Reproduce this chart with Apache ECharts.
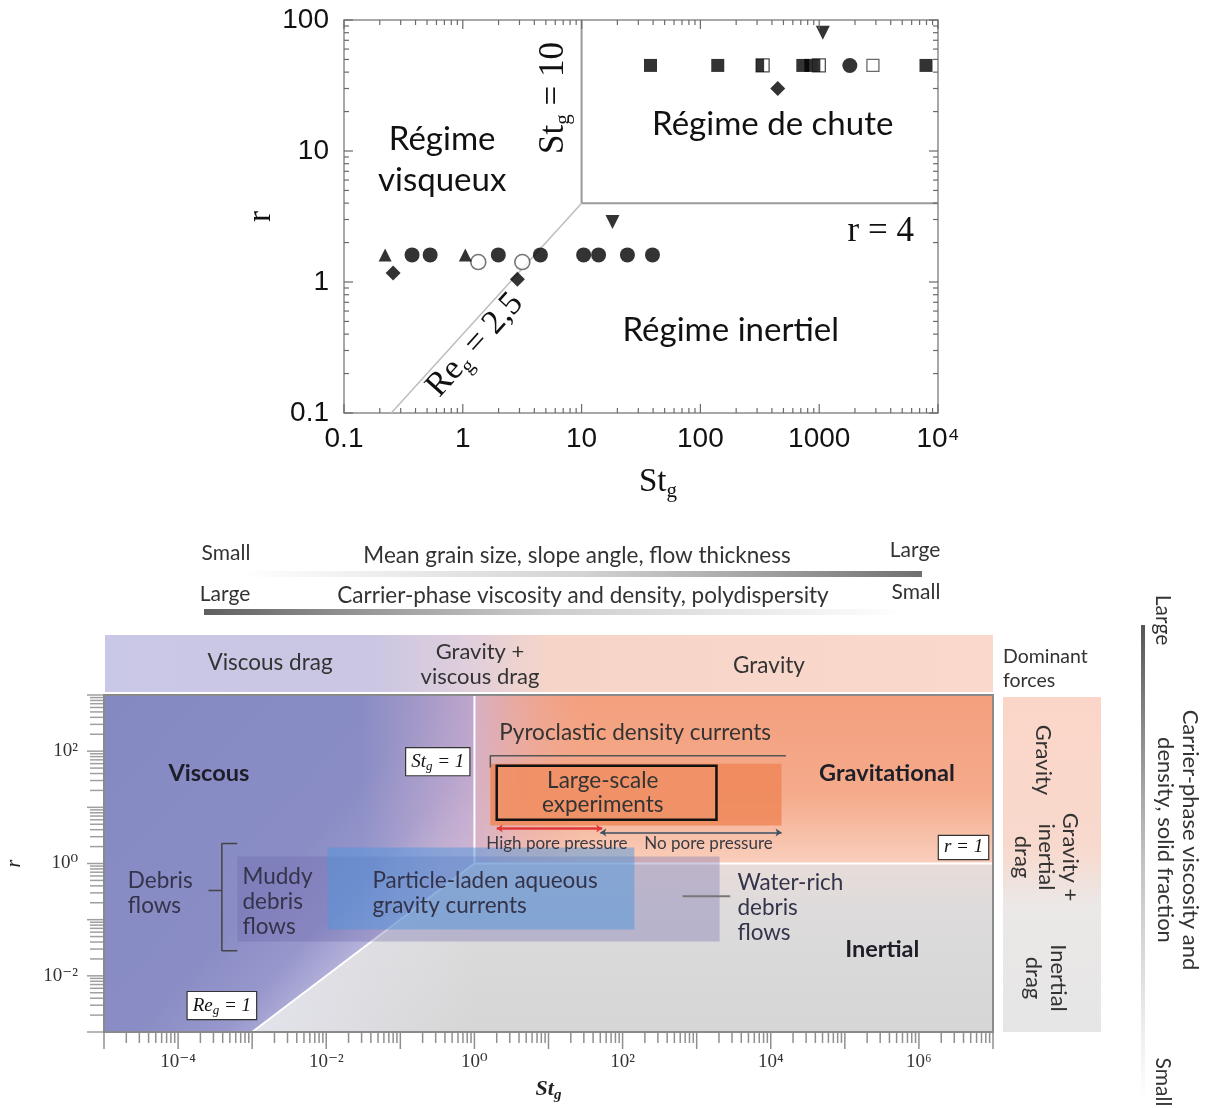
<!DOCTYPE html>
<html><head><meta charset="utf-8"><title>Flow regimes</title>
<script src="https://cdn.jsdelivr.net/npm/echarts@6.0.0/dist/echarts.min.js"></script>
<style>html,body{margin:0;padding:0;background:#fff;}#chart{width:1211px;height:1108px;}</style>
</head><body><div id="chart"></div>
<script>
// ================= TOP CHART DATA (St_g vs r, log-log) =================
const topXTicks = [0.1, 1, 10, 100, 1000, 10000];
const topXTickLabels = ['0.1', '1', '10', '100', '1000', '10⁴'];
const topYTicks = [0.1, 1, 10, 100];
const topYTickLabels = ['0.1', '1', '10', '100'];

const topFilledSquares = [[38, 45], [140, 45], [728, 45], [850, 45], [7925, 45]];
const topHalfSquares = [[334, 45], [993, 45]];
const topOpenSquares = [[2833, 45]];
const topFilledCircles = [[1811, 45], [0.374, 1.61], [0.531, 1.61], [1.99, 1.61], [4.5, 1.61], [10.4, 1.61], [13.9, 1.61], [24.3, 1.61], [39.5, 1.61]];
const topOpenCircles = [[1.35, 1.42], [3.17, 1.42]];
const topTrianglesUp = [[0.222, 1.61], [1.05, 1.61]];
const topTrianglesDown = [[1072, 80], [18.2, 2.87]];
const topDiamonds = [[0.259, 1.17], [2.88, 1.05], [448, 30]];

const topBoundaryStg = [[10, 4], [10, 100]];
const topBoundaryR = [[10, 4], [10000, 4]];
const topBoundaryReg = [[0.25, 0.1], [10, 4]];

const topRegionLabels = [
  { text: 'Régime\nvisqueux', x: 0.67, y: 8.5 },
  { text: 'Régime de chute', x: 406, y: 16 },
  { text: 'Régime inertiel', x: 180, y: 0.43 }
];
const topEquationLabels = [
  { text: 'St{s|g} = 10', x: 5.8, y: 25.4, angle: 90 },
  { text: 'Re{s|g} = 2,5', x: 1.27, y: 0.33, angle: 48 },
  { text: 'r = 4', x: 3300, y: 2.4, angle: 0 }
];

// ================= BOTTOM CHART DATA (regime diagram) =================
const botXLabelValues = [1e-4, 1e-2, 1, 1e2, 1e4, 1e6];
const botXLabels = ['10⁻⁴', '10⁻²', '10⁰', '10²', '10⁴', '10⁶'];
const botYLabelValues = [1e-2, 1, 1e2];
const botYLabels = ['10⁻²', '10⁰', '10²'];

const viscousRegion = [[1e-5, 1e3], [1, 1e3], [1, 1], [1e-3, 1e-3], [1e-5, 1e-3]];
const viscousTint = [[0.03, 1e3], [1, 1e3], [1, 1], [0.03, 0.03]];
const gravitationalRegion = [[1, 1e3], [1e7, 1e3], [1e7, 1], [1, 1]];
const inertialRegion = [[1, 1], [1e7, 1], [1e7, 1e-3], [1e-3, 1e-3]];

const botBoundaryStg = [[1, 1], [1, 1e3]];
const botBoundaryR = [[1, 1], [1e7, 1]];
const botBoundaryReg = [[1e-3, 1e-3], [1, 1]];

// boxes: [xMin, yMin, xMax, yMax]
const pyroclasticBox = [1.64, 4.75, 1.4e4, 60];
const largeScaleBox = [2.0, 6.0, 1850, 55];
const muddyBox = [6.3e-4, 0.041, 2040, 1.33];
const particleBox = [0.0104, 0.067, 144, 1.93];

const debrisBracket = [[6.3e-4, 2.27], [3.9e-4, 2.27], [3.9e-4, 0.028], [6.3e-4, 0.028]];
const debrisStub = [[2.57e-4, 0.33], [3.9e-4, 0.33]];
const waterRichStub = [[645, 0.26], [2840, 0.26]];
const pyroBracket = [[1.64, 51], [1.64, 83], [1.6e4, 83]];
const highPoreArrow = [[2.0, 4.2], [53, 4.2]];
const noPoreArrow = [[50, 3.55], [1.4e4, 3.55]];

const botBoldLabels = [
  { text: 'Viscous', x: 2.6e-4, y: 40 },
  { text: 'Gravitational', x: 3.7e5, y: 40 },
  { text: 'Inertial', x: 3.2e5, y: 0.03 }
];
const botCenterLabels = [
  { text: 'Pyroclastic density currents', x: 148, y: 214 },
  { text: 'Large-scale\nexperiments', x: 54, y: 18 }
];
const botSmallLabels = [
  { text: 'High pore pressure', x: 13, y: 2.27 },
  { text: 'No pore pressure', x: 1445, y: 2.27 }
];
const botLeftLabels = [
  { text: 'Debris\nflows', x: 2.1e-5, y: 0.30 },
  { text: 'Muddy\ndebris\nflows', x: 7.4e-4, y: 0.21 },
  { text: 'Particle-laden aqueous\ngravity currents', x: 0.042, y: 0.30 },
  { text: 'Water-rich\ndebris\nflows', x: 3550, y: 0.16 }
];
const botBoxedLabels = [
  { text: 'St{s|g} = 1', x: 0.32, y: 65 },
  { text: 'r = 1', x: 4e6, y: 1.93 },
  { text: 'Re{s|g} = 1', x: 3.9e-4, y: 2.95e-3 }
];

// ================= HELPERS =================
const SANS = 'Lato, "Noto Sans", sans-serif';
const SERIF = '"Liberation Serif", "DejaVu Serif", serif';
const ARIAL = '"Liberation Sans", Arial, sans-serif';
const G = echarts.graphic;
function lin(x, y, x2, y2, stops) {
  return new G.LinearGradient(x, y, x2, y2, stops.map(s => ({ offset: s[0], color: s[1] })));
}
function labelFor(values, labels) {
  return v => {
    for (let i = 0; i < values.length; i++) {
      if (Math.abs(Math.log10(values[i]) - Math.log10(v)) < 1e-6) return labels[i];
    }
    return '';
  };
}
function decadeTicks(e0, e1) {
  const out = [];
  for (let e = e0; e < e1; e++) {
    out.push([Math.pow(10, e), 1]);
    for (let m = 2; m <= 9; m++) out.push([m * Math.pow(10, e), 0]);
  }
  out.push([Math.pow(10, e1), 1]);
  return out;
}
function tickSeries(idx, dim, ticks, sides, majorLen, minorLen, color, width) {
  return {
    type: 'custom', xAxisIndex: idx, yAxisIndex: idx, silent: true, z: 30,
    data: ticks.map(t => dim === 'x' ? [t[0], 1, t[1]] : [1, t[0], t[1]]),
    encode: { x: 0, y: 1 },
    renderItem(params, api) {
      const cs = params.coordSys;
      const p = api.coord([api.value(0), api.value(1)]);
      const len = api.value(2) ? majorLen : minorLen;
      const children = [];
      sides.forEach(s => {
        let x1, y1, x2, y2;
        if (s === 'bottom-in') { x1 = x2 = p[0]; y1 = cs.y + cs.height; y2 = y1 - len; }
        if (s === 'top-in') { x1 = x2 = p[0]; y1 = cs.y; y2 = y1 + len; }
        if (s === 'bottom-out') { x1 = x2 = p[0]; y1 = cs.y + cs.height; y2 = y1 + len; }
        if (s === 'left-in') { y1 = y2 = p[1]; x1 = cs.x; x2 = x1 + len; }
        if (s === 'right-in') { y1 = y2 = p[1]; x1 = cs.x + cs.width; x2 = x1 - len; }
        if (s === 'left-out') { y1 = y2 = p[1]; x1 = cs.x; x2 = x1 - len; }
        children.push({ type: 'line', shape: { x1, y1, x2, y2 }, style: { stroke: color, lineWidth: width } });
      });
      return { type: 'group', children };
    }
  };
}
function textSeries(idx, items, style) {
  return {
    type: 'custom', xAxisIndex: idx, yAxisIndex: idx, silent: true, z: 40,
    data: items.map(d => [d.x, d.y]),
    encode: { x: 0, y: 1 },
    renderItem(params, api) {
      const d = items[params.dataIndex];
      const p = api.coord([api.value(0), api.value(1)]);
      return {
        type: 'text', x: p[0], y: p[1], rotation: (d.angle || 0) * Math.PI / 180,
        style: Object.assign({ text: d.text, align: 'center', verticalAlign: 'middle' }, style)
      };
    }
  };
}
function lineSeries(idx, data, color, width, z) {
  return { type: 'line', xAxisIndex: idx, yAxisIndex: idx, data, symbol: 'none', silent: true,
    lineStyle: { color, width }, z: z || 10, animation: false };
}
function boxSeries(idx, box, style, z) {
  return {
    type: 'custom', xAxisIndex: idx, yAxisIndex: idx, silent: true, z,
    data: [[box[0], box[1], box[2], box[3]]],
    encode: { x: [0, 2], y: [1, 3] },
    renderItem(params, api) {
      const a = api.coord([api.value(0), api.value(3)]);
      const b = api.coord([api.value(2), api.value(1)]);
      return { type: 'rect', shape: { x: a[0], y: a[1], width: b[0] - a[0], height: b[1] - a[1] }, style };
    }
  };
}
function deco(x, y, text, size, opts) {
  return Object.assign({ type: 'text', x, y, style: Object.assign({ text, font: size + 'px ' + SANS, fill: '#333', align: 'center', verticalAlign: 'middle' }, (opts && opts.style) || {}) },
    opts && opts.rotation != null ? { rotation: opts.rotation } : {});
}
const ROT = -Math.PI / 2;

// ================= OPTION =================
const markerBase = { type: 'scatter', xAxisIndex: 0, yAxisIndex: 0, silent: true, z: 20 };

const option = {
  animation: false,
  backgroundColor: '#ffffff',
  grid: [
    { left: 344, top: 20, width: 594, height: 393, show: true, borderColor: '#8c8c8c', borderWidth: 1.5, backgroundColor: 'transparent', outerBoundsMode: 'none', containLabel: false },
    { left: 104, top: 695, width: 889, height: 337, show: false, outerBoundsMode: 'none', containLabel: false }
  ],
  xAxis: [
    {
      gridIndex: 0, type: 'log', logBase: 10, min: 0.1, max: 10000,
      axisLine: { show: false }, axisTick: { show: false }, splitLine: { show: false },
      axisLabel: { customValues: topXTicks, formatter: labelFor(topXTicks, topXTickLabels), fontFamily: ARIAL, fontSize: 28, color: '#111', margin: 12 },
      name: 'St{s|g}', nameLocation: 'middle', nameGap: 50,
      nameTextStyle: { fontFamily: SERIF, fontSize: 33, color: '#111', padding: [0, 0, 0, 34],
        rich: { s: { fontFamily: SERIF, fontSize: 21, color: '#111', padding: [18, 0, 0, 0] } } }
    },
    {
      gridIndex: 1, type: 'log', logBase: 10, min: 1e-5, max: 1e7,
      axisLine: { show: false }, axisTick: { show: false }, splitLine: { show: false },
      axisLabel: { customValues: botXLabelValues, formatter: labelFor(botXLabelValues, botXLabels), fontFamily: SERIF, fontSize: 19, color: '#333', margin: 21 },
      name: 'St{s|g}', nameLocation: 'middle', nameGap: 44,
      nameTextStyle: { fontFamily: SERIF, fontSize: 22, fontStyle: 'italic', fontWeight: 'bold', color: '#222',
        rich: { s: { fontFamily: SERIF, fontSize: 15, fontStyle: 'italic', fontWeight: 'bold', color: '#222', padding: [12, 0, 0, 0] } } }
    }
  ],
  yAxis: [
    {
      gridIndex: 0, type: 'log', logBase: 10, min: 0.1, max: 100,
      axisLine: { show: false }, axisTick: { show: false }, splitLine: { show: false },
      axisLabel: { customValues: topYTicks, formatter: labelFor(topYTicks, topYTickLabels), fontFamily: ARIAL, fontSize: 28, color: '#111', margin: 15 },
      name: 'r', nameLocation: 'middle', nameGap: 66, nameRotate: 90,
      nameTextStyle: { fontFamily: SERIF, fontSize: 33, color: '#111' }
    },
    {
      gridIndex: 1, type: 'log', logBase: 10, min: 1e-3, max: 1e3,
      axisLine: { show: false }, axisTick: { show: false }, splitLine: { show: false },
      axisLabel: { customValues: botYLabelValues, formatter: labelFor(botYLabelValues, botYLabels), fontFamily: SERIF, fontSize: 19, color: '#333', margin: 26 },
      name: 'r', nameLocation: 'middle', nameGap: 79, nameRotate: 90,
      nameTextStyle: { fontFamily: SERIF, fontSize: 20, fontStyle: 'italic', color: '#222' }
    }
  ],
  graphic: [
    deco(226, 553, 'Small', 21),
    deco(577, 556, 'Mean grain size, slope angle, flow thickness', 22.5),
    deco(915, 550, 'Large', 21),
    { type: 'rect', shape: { x: 240, y: 571, width: 682, height: 6 }, style: { fill: lin(0, 0, 1, 0, [[0, 'rgba(130,130,130,0)'], [0.5, 'rgba(130,130,130,0.35)'], [1, '#6f6f6f']]) } },
    deco(225, 594, 'Large', 21),
    deco(583, 596, 'Carrier-phase viscosity and density, polydispersity', 22.5),
    deco(916, 592, 'Small', 21),
    { type: 'rect', shape: { x: 204, y: 609, width: 700, height: 6 }, style: { fill: lin(0, 0, 1, 0, [[0, '#5f5f5f'], [0.5, 'rgba(130,130,130,0.4)'], [1, 'rgba(130,130,130,0)']]) } },

    { type: 'rect', shape: { x: 105, y: 635, width: 888, height: 57 }, style: { fill: lin(0, 0, 1, 0, [[0, '#c9c8e6'], [0.3, '#cac6e3'], [0.42, '#e2cfda'], [0.5, '#f6d5c8'], [1, '#fad9cc']]) } },
    deco(270, 663, 'Viscous drag', 22.5),
    deco(480, 664, 'Gravity +\nviscous drag', 22, { style: { lineHeight: 25 } }),
    deco(769, 666, 'Gravity', 22.5),
    deco(1003, 669, 'Dominant\nforces', 19.5, { style: { lineHeight: 24, align: 'left' } }),

    { type: 'rect', shape: { x: 1003, y: 697, width: 98, height: 335 }, style: { fill: lin(0, 0, 0, 1, [[0, '#fbd6c8'], [0.45, '#f8d9cd'], [0.62, '#ebe8e7'], [1, '#e6e6e6']]) } },
    deco(1043, 760, 'Gravity', 22, { rotation: ROT }),
    deco(1046, 857, 'Gravity +\ninertial\ndrag', 22, { rotation: ROT, style: { lineHeight: 24 } }),
    deco(1046, 978, 'Inertial\ndrag', 22, { rotation: ROT, style: { lineHeight: 25 } }),

    { type: 'rect', shape: { x: 1141, y: 625, width: 4, height: 475 }, style: { fill: lin(0, 0, 0, 1, [[0, '#555'], [0.5, 'rgba(120,120,120,0.45)'], [1, 'rgba(120,120,120,0)']]) } },
    deco(1163, 620, 'Large', 21, { rotation: ROT }),
    deco(1163, 1082, 'Small', 21, { rotation: ROT }),
    deco(1178, 840, 'Carrier-phase viscosity and\ndensity, solid fraction', 22, { rotation: ROT, style: { lineHeight: 25 } })
  ],
  series: [
    // ---------- top chart ----------
    lineSeries(0, topBoundaryStg, '#9a9a9a', 2, 10),
    lineSeries(0, topBoundaryR, '#9a9a9a', 2, 10),
    lineSeries(0, topBoundaryReg, '#bdbdbd', 1.5, 10),
    tickSeries(0, 'x', decadeTicks(-1, 4), ['bottom-in', 'top-in'], 9, 5, '#6a6a6a', 1.2),
    tickSeries(0, 'y', decadeTicks(-1, 2), ['left-in', 'right-in'], 9, 5, '#6a6a6a', 1.2),
    Object.assign({}, markerBase, { name: 'Filled squares', symbol: 'rect', symbolSize: 13, itemStyle: { color: '#000' }, data: topFilledSquares }),
    Object.assign({}, markerBase, { name: 'Half squares', symbol: 'rect', symbolSize: 13, itemStyle: { color: '#fff', borderColor: '#222', borderWidth: 1.3 }, data: topHalfSquares }),
    Object.assign({}, markerBase, { name: 'Half squares fill', symbol: 'rect', symbolSize: [8, 13], symbolOffset: [-2.5, 0], itemStyle: { color: '#000' }, data: topHalfSquares, z: 21 }),
    Object.assign({}, markerBase, { name: 'Open squares', symbol: 'rect', symbolSize: 12, itemStyle: { color: '#fff', borderColor: '#444', borderWidth: 1.3 }, data: topOpenSquares }),
    Object.assign({}, markerBase, { name: 'Filled circles', symbol: 'circle', symbolSize: 15, itemStyle: { color: '#000' }, data: topFilledCircles }),
    Object.assign({}, markerBase, { name: 'Open circles', symbol: 'circle', symbolSize: 15, itemStyle: { color: '#fff', borderColor: '#555', borderWidth: 1.6 }, data: topOpenCircles }),
    Object.assign({}, markerBase, { name: 'Triangles up', symbol: 'triangle', symbolSize: 13, itemStyle: { color: '#000' }, data: topTrianglesUp }),
    Object.assign({}, markerBase, { name: 'Triangles down', symbol: 'triangle', symbolRotate: 180, symbolSize: 14, itemStyle: { color: '#000' }, data: topTrianglesDown }),
    Object.assign({}, markerBase, { name: 'Diamonds', symbol: 'diamond', symbolSize: 15, itemStyle: { color: '#000' }, data: topDiamonds }),
    textSeries(0, topRegionLabels, { font: '33px ' + SANS, lineHeight: 41, fill: '#111' }),
    textSeries(0, [topEquationLabels[0]], { font: '35px ' + SERIF, fill: '#111', rich: { s: { fontSize: 21, fontFamily: SERIF, fill: '#111', padding: [19, 0, 0, 0] } } }),
    textSeries(0, [topEquationLabels[1]], { font: '34px ' + SERIF, fill: '#111', rich: { s: { fontSize: 21, fontFamily: SERIF, fill: '#111', padding: [19, 0, 0, 0] } } }),
    textSeries(0, [topEquationLabels[2]], { font: '35px ' + SERIF, fill: '#111' }),

    // ---------- bottom chart ----------
    {
      type: 'custom', xAxisIndex: 1, yAxisIndex: 1, silent: true, z: 1,
      data: [[1, 1]], encode: { x: 0, y: 1 },
      renderItem(params, api) {
        const poly = pts => pts.map(p => api.coord(p));
        return {
          type: 'group', children: [
            { type: 'polygon', shape: { points: poly(viscousRegion) }, style: { fill: lin(0, 0, 1, 1, [[0, '#8589c2'], [0.5, '#8a8dc5'], [0.63, '#9797cc'], [0.77, '#c6c2e2'], [1, '#d8d6ea']]) } },
            { type: 'polygon', shape: { points: poly(viscousTint) }, style: { fill: lin(0, 0, 1, 0, [[0, 'rgba(210,175,205,0)'], [1, 'rgba(210,175,205,0.7)']]) } },
            { type: 'polygon', shape: { points: poly(gravitationalRegion) }, style: { fill: lin(0, 0, 0, 1, [[0, '#f39f7d'], [0.6, '#f5ab8c'], [1, '#f9cfbd']]) } },
            { type: 'polygon', shape: { points: poly(gravitationalRegion) }, style: { fill: lin(0, 0, 1, 0, [[0, 'rgba(210,178,205,0.9)'], [0.1, 'rgba(228,175,180,0.5)'], [0.22, 'rgba(240,170,150,0)']]) } },
            { type: 'polygon', shape: { points: poly(inertialRegion) }, style: { fill: lin(0, 0, 0, 1, [[0, '#e8dcd9'], [0.3, '#dddbdc'], [1, '#d6d6d6']]) } },
            { type: 'polygon', shape: { points: poly(inertialRegion) }, style: { fill: lin(0, 0, 1, 0, [[0, 'rgba(228,228,238,0.9)'], [0.3, 'rgba(228,228,238,0)']]) } }
          ]
        };
      }
    },
    lineSeries(1, botBoundaryStg, '#ffffff', 2, 3),
    lineSeries(1, botBoundaryR, '#ffffff', 2, 3),
    lineSeries(1, botBoundaryReg, '#ffffff', 2, 3),
    {
      type: 'custom', xAxisIndex: 1, yAxisIndex: 1, silent: true, z: 35,
      data: [[1, 1]], encode: { x: 0, y: 1 },
      renderItem(params) {
        const cs = params.coordSys;
        return { type: 'rect', shape: { x: cs.x, y: cs.y, width: cs.width, height: cs.height }, style: { fill: 'none', stroke: '#8a8a8a', lineWidth: 2 } };
      }
    },
    boxSeries(1, pyroclasticBox, { fill: 'rgba(238,135,88,0.85)' }, 5),
    boxSeries(1, largeScaleBox, { fill: 'rgba(240,150,110,0.55)', stroke: '#111', lineWidth: 2.5 }, 6),
    boxSeries(1, muddyBox, { fill: 'rgba(105,100,170,0.33)' }, 5),
    boxSeries(1, particleBox, { fill: 'rgba(80,150,220,0.5)' }, 6),
    lineSeries(1, debrisBracket, '#444', 1.5, 8),
    lineSeries(1, debrisStub, '#444', 1.5, 8),
    lineSeries(1, waterRichStub, '#777', 2, 8),
    lineSeries(1, pyroBracket, '#555', 1.5, 8),
    { type: 'lines', coordinateSystem: 'cartesian2d', xAxisIndex: 1, yAxisIndex: 1, silent: true, z: 9,
      symbol: ['arrow', 'arrow'], symbolSize: 6, lineStyle: { color: '#e0383a', width: 2.5, opacity: 1 },
      data: [{ coords: highPoreArrow }] },
    { type: 'lines', coordinateSystem: 'cartesian2d', xAxisIndex: 1, yAxisIndex: 1, silent: true, z: 9,
      symbol: ['arrow', 'arrow'], symbolSize: 6, lineStyle: { color: '#3d5060', width: 1.5, opacity: 1 },
      data: [{ coords: noPoreArrow }] },
    tickSeries(1, 'x', decadeTicks(-5, 7), ['bottom-out'], 17, 11, '#8f8f8f', 1.5),
    tickSeries(1, 'y', decadeTicks(-3, 3), ['left-out'], 17, 14, '#9f9f9f', 1.5),
    textSeries(1, botBoldLabels, { font: 'bold 23.5px ' + SANS, fill: '#1e1e28' }),
    textSeries(1, botCenterLabels, { font: '22.5px ' + SANS, lineHeight: 24, fill: '#333' }),
    textSeries(1, botSmallLabels, { font: '17px ' + SANS, fill: '#3a3a44' }),
    textSeries(1, botLeftLabels, { font: '22.5px ' + SANS, lineHeight: 25, fill: '#33334a', align: 'left' }),
    textSeries(1, botBoxedLabels, { font: 'italic 19px ' + SERIF, fill: '#111', backgroundColor: '#fff', borderColor: '#333', borderWidth: 1.2, padding: [2, 5, 2, 5],
      rich: { s: { fontSize: 13, fontStyle: 'italic', fontFamily: SERIF, fill: '#111', padding: [10, 0, 0, 0] } } })
  ]
};

const chart = echarts.init(document.getElementById('chart'), null, { renderer: 'canvas', width: 1211, height: 1108 });
chart.setOption(option);
</script></body></html>
